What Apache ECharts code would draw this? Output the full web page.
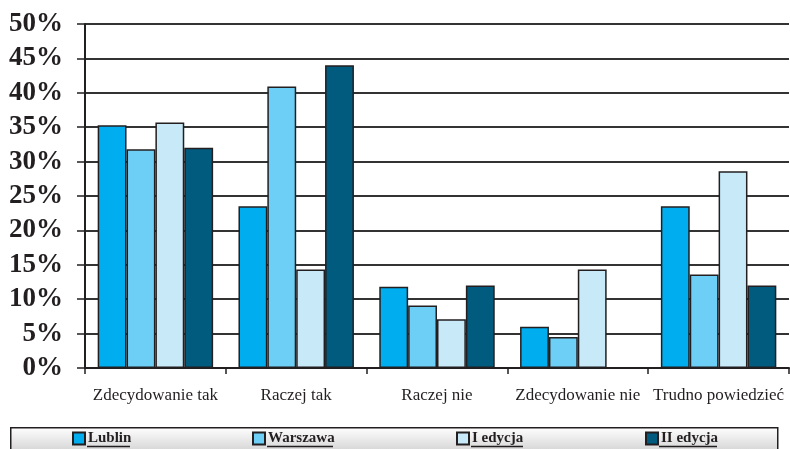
<!DOCTYPE html>
<html><head><meta charset="utf-8">
<script src="https://cdn.jsdelivr.net/npm/echarts@6/dist/echarts.min.js"></script>
<style>html,body{margin:0;padding:0;background:#fff}#c{width:790px;height:449px}</style>
</head><body><div id="c"></div>
<script>
var categories = ['Zdecydowanie tak', 'Raczej tak', 'Raczej nie', 'Zdecydowanie nie', 'Trudno powiedzieć'];
var seriesNames = ['Lublin', 'Warszawa', 'I edycja', 'II edycja'];
var lublin   = [35.3, 23.5, 11.8, 6.0, 23.5];
var warszawa = [31.8, 40.9, 9.1, 4.5, 13.6];
var edycja1  = [35.7, 14.3, 7.1, 14.3, 28.6];
var edycja2  = [32.0, 44.0, 12.0, 0, 12.0];
var yTicks = [0, 5, 10, 15, 20, 25, 30, 35, 40, 45, 50];
var colors = ['#00AEEF', '#6DCFF6', '#C7E9F8', '#005B7F'];

var values = [lublin, warszawa, edycja1, edycja2];
var serif = '"Liberation Serif", "Times New Roman", serif';
var ink = '#231F20';
var legendLeft = [72, 252, 456, 645];
var underline = [[87, 130], [267, 333], [471, 523], [659, 717]];

var series = seriesNames.map(function (n, i) {
  return {
    name: n, type: 'bar', barGap: '0%', barCategoryGap: '18%',
    data: values[i].map(function (v) { return v === 0 ? null : v; }),
    itemStyle: { color: colors[i], borderColor: ink, borderWidth: 1.5 }
  };
});

var legends = seriesNames.map(function (n, i) {
  return {
    data: [n], left: legendLeft[i], top: 431, itemWidth: 12, itemHeight: 12, itemGap: 0,
    icon: 'rect', padding: 0,
    textStyle: { fontFamily: serif, fontWeight: 'bold', fontSize: 15, color: ink, padding: [0, 0, 0, -2] }
  };
});

var graphics = [
  { type: 'rect', left: 10, top: 427, shape: { width: 767, height: 30 }, z: -10,
    style: { fill: new echarts.graphic.LinearGradient(0, 0, 0, 1, [{ offset: 0, color: '#ffffff' }, { offset: 1, color: '#c8c8c8' }]), stroke: ink, lineWidth: 1.5 } }
];
underline.forEach(function (u) {
  graphics.push({ type: 'line', shape: { x1: u[0], y1: 446.5, x2: u[1], y2: 446.5 }, style: { stroke: ink, lineWidth: 1.5 }, z: 10 });
});

var chart = echarts.init(document.getElementById('c'));
chart.setOption({
  animation: false,
  color: colors,
  grid: { left: 85, right: 1, top: 24, bottom: 81, containLabel: false },
  graphic: graphics,
  legend: legends,
  xAxis: {
    type: 'category', data: categories,
    axisLine: { lineStyle: { color: ink, width: 2 } },
    axisTick: { show: true, length: 6, lineStyle: { color: ink, width: 1.5 } },
    axisLabel: { fontFamily: serif, fontSize: 17, color: ink, margin: 19, interval: 0 }
  },
  yAxis: {
    type: 'value', min: 0, max: 50, interval: 5,
    axisLine: { show: true, lineStyle: { color: ink, width: 2 } },
    axisTick: { show: true, length: 8, lineStyle: { color: ink, width: 1.5 } },
    axisLabel: { fontFamily: serif, fontSize: 27, fontWeight: 'bold', color: ink, margin: 22,
      formatter: function (v) { return yTicks.indexOf(v) >= 0 ? v + '%' : ''; } },
    splitLine: { show: true, lineStyle: { color: '#333', width: 2 } }
  },
  series: series
});
</script></body></html>
